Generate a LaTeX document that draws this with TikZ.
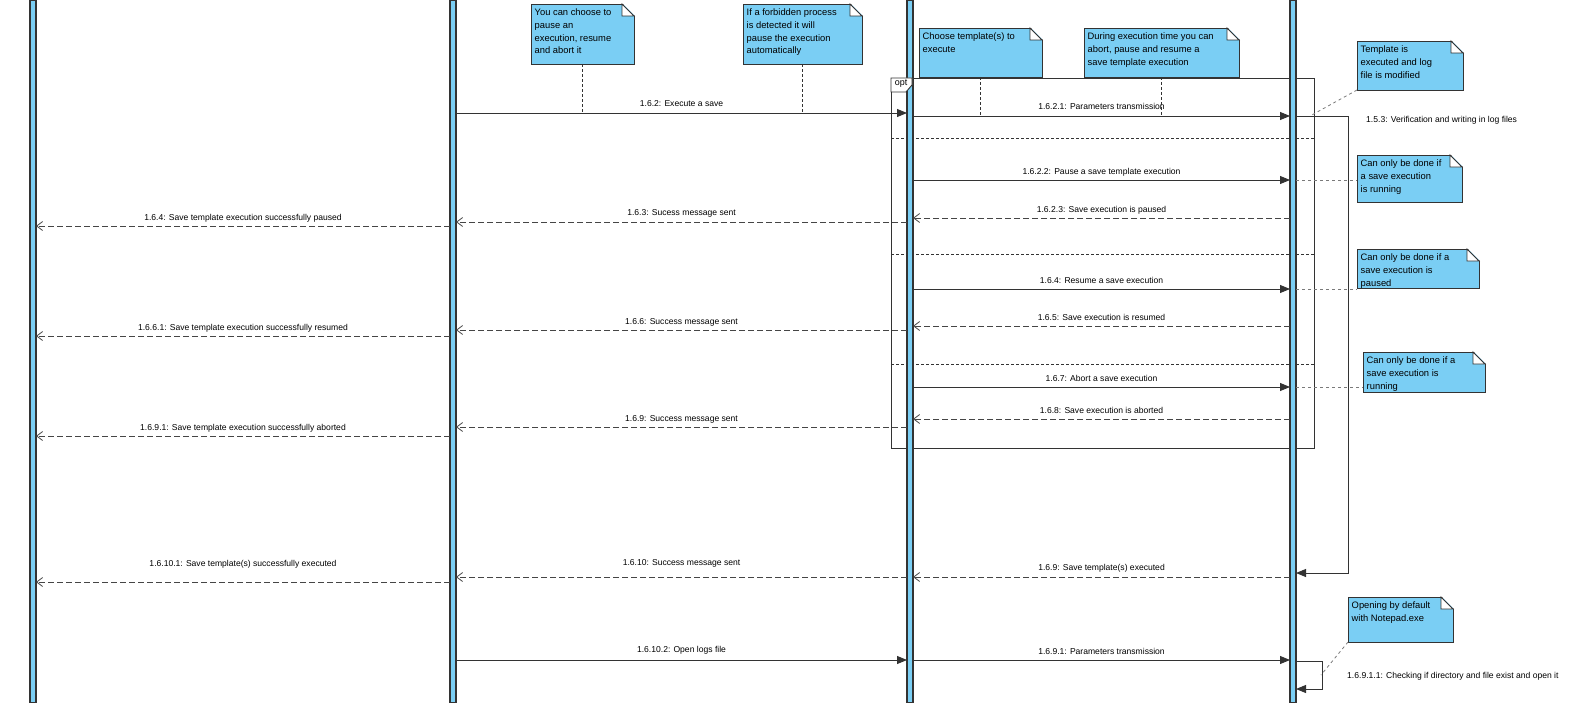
\documentclass[tikz,border=0pt]{standalone}
\usepackage{fontspec}
\setmainfont{Liberation Sans}
\usetikzlibrary{arrows.meta}

\definecolor{lifeblue}{HTML}{7ACEF4}
\definecolor{edge}{HTML}{333333}
\definecolor{ret}{HTML}{454545}
\definecolor{hint}{HTML}{7A7A7A}
\newcommand\lblfont{\fontsize{8.6}{10}\selectfont}
\newcommand\notefont{\fontsize{9.4}{12.7}\selectfont}
\newcommand\fold[1]{%
  \fill[white] ([xshift=-12bp,yshift=1bp]#1.north east) -- ([xshift=1bp,yshift=1bp]#1.north east) -- ([xshift=1bp,yshift=-12bp]#1.north east) -- cycle;
  \draw[edge, line width=0.9bp, fill=white] ([xshift=-12bp]#1.north east) -- ([yshift=-12bp]#1.north east) -- ([xshift=-12bp,yshift=-12bp]#1.north east) -- cycle;}

\begin{document}
\begin{tikzpicture}[x=1bp, y=-1bp,
    bar/.style={draw=edge, fill=lifeblue, line width=1.2bp, minimum width=6bp, minimum height=703bp, inner sep=0pt, outer sep=0pt},
    sync/.style={draw=edge, line width=0.9bp, -{Triangle[length=10bp,width=8bp]}},
    reply/.style={draw=ret, line width=0.8bp, dash pattern=on 6bp off 3bp, -{Straight Barb[length=6bp,width=9bp]}},
    lbl/.style={font=\lblfont, anchor=base, yshift=6bp, inner sep=0pt},
    selflbl/.style={font=\lblfont, anchor=west, inner sep=0pt},
    note/.style={draw=edge, fill=lifeblue, line width=0.9bp, anchor=north west, inner sep=0pt, outer sep=0pt},
    notetext/.style={font=\notefont, align=left, anchor=north west, inner xsep=3.5bp, inner ysep=5bp},
    anchorline/.style={draw=edge, line width=0.7bp, dash pattern=on 3bp off 2bp},
    hintline/.style={draw=hint, line width=0.8bp, dash pattern=on 3bp off 3bp},
    sepline/.style={draw=edge, line width=0.8bp, dash pattern=on 3bp off 2bp},
    framebox/.style={draw=edge, line width=0.9bp, anchor=north west, inner sep=0pt}]
  \useasboundingbox (0,0) rectangle (1596,703);

  %Frame
  \node[framebox, minimum width=423bp, minimum height=370bp] (optframe) at (891,78) {};
  \draw[sepline] (optframe.west |- 0,138) -- (optframe.east |- 0,138);
  \draw[sepline] (optframe.west |- 0,254) -- (optframe.east |- 0,254);
  \draw[sepline] (optframe.west |- 0,364) -- (optframe.east |- 0,364);

  %Lifelines
  \node[bar] (user) at (33,351.5) {};
  \node[bar] (ui) at (453,351.5) {};
  \node[bar] (ctrl) at (910,351.5) {};
  \node[bar] (sys) at (1293,351.5) {};

  %Frame tab
  \filldraw[draw=edge, fill=white, line width=0.9bp] (optframe.north west) -- (912,78) -- (912,85) -- (906,92) -- (891,92) -- cycle;
  \node[font=\fontsize{9}{10}\selectfont, inner sep=0pt] (optlbl) at (901,84) {opt};

  %Messages
  \draw[sync] (ui.east |- 0,113) -- node[lbl]{1.6.2: Execute a save} (ctrl.west |- 0,113);
  \draw[sync] (ctrl.east |- 0,116) -- node[lbl]{1.6.2.1: Parameters transmission} (sys.west |- 0,116);
  \draw[sync] (sys.east |- 0,116) -- (1348,116) -- (1348,573) -- (sys.east |- 0,573);
  \node[selflbl] (verif) at (1366,120) {1.5.3: Verification and writing in log files};

  \draw[sync] (ctrl.east |- 0,180) -- node[lbl]{1.6.2.2: Pause a save template execution} (sys.west |- 0,180);
  \draw[reply] (sys.west |- 0,218) -- node[lbl]{1.6.2.3: Save execution is paused} (ctrl.east |- 0,218);
  \draw[reply] (ctrl.west |- 0,222) -- node[lbl, yshift=1bp]{1.6.3: Sucess message sent} (ui.east |- 0,222);
  \draw[reply] (ui.west |- 0,226) -- node[lbl]{1.6.4: Save template execution successfully paused} (user.east |- 0,226);

  \draw[sync] (ctrl.east |- 0,289) -- node[lbl]{1.6.4: Resume a save execution} (sys.west |- 0,289);
  \draw[reply] (sys.west |- 0,326) -- node[lbl]{1.6.5: Save execution is resumed} (ctrl.east |- 0,326);
  \draw[reply] (ctrl.west |- 0,330) -- node[lbl]{1.6.6: Success message sent} (ui.east |- 0,330);
  \draw[reply] (ui.west |- 0,336) -- node[lbl]{1.6.6.1: Save template execution successfully resumed} (user.east |- 0,336);

  \draw[sync] (ctrl.east |- 0,387) -- node[lbl]{1.6.7: Abort a save execution} (sys.west |- 0,387);
  \draw[reply] (sys.west |- 0,419) -- node[lbl]{1.6.8: Save execution is aborted} (ctrl.east |- 0,419);
  \draw[reply] (ctrl.west |- 0,427) -- node[lbl]{1.6.9: Success message sent} (ui.east |- 0,427);
  \draw[reply] (ui.west |- 0,436) -- node[lbl]{1.6.9.1: Save template execution successfully aborted} (user.east |- 0,436);

  \draw[reply] (sys.west |- 0,577) -- node[lbl, yshift=1bp]{1.6.9: Save template(s) executed} (ctrl.east |- 0,577);
  \draw[reply] (ctrl.west |- 0,577) -- node[lbl, yshift=6bp]{1.6.10: Success message sent} (ui.east |- 0,577);
  \draw[reply] (ui.west |- 0,582) -- node[lbl, yshift=10bp]{1.6.10.1: Save template(s) successfully executed} (user.east |- 0,582);

  \draw[sync] (ui.east |- 0,660) -- node[lbl, yshift=2bp]{1.6.10.2: Open logs file} (ctrl.west |- 0,660);
  \draw[sync] (ctrl.east |- 0,660) -- node[lbl]{1.6.9.1: Parameters transmission} (sys.west |- 0,660);
  \draw[sync] (sys.east |- 0,661) -- (1322,661) -- (1322,689) -- (sys.east |- 0,689);
  \node[selflbl] (check) at (1347,676) {1.6.9.1.1: Checking if directory and file exist and open it};

  %Notes
  \node[note, minimum width=103bp, minimum height=60bp] (nA) at (531,4) {};
  \fold{nA}
  \node[notetext] (nAt) at (nA.north west) {You can choose to\\pause an\\execution, resume\\and abort it};
  \draw[anchorline] (nA.south) -- (nA.south |- 0,113);

  \node[note, minimum width=119bp, minimum height=60bp] (nB) at (743,4) {};
  \fold{nB}
  \node[notetext] (nBt) at (nB.north west) {If a forbidden process\\is detected it will\\pause the execution\\automatically};
  \draw[anchorline] (nB.south) -- (nB.south |- 0,113);

  \node[note, minimum width=123bp, minimum height=49bp] (nC) at (919,28) {};
  \fold{nC}
  \node[notetext] (nCt) at (nC.north west) {Choose template(s) to\\execute};
  \draw[anchorline] (nC.south) -- (nC.south |- 0,116);

  \node[note, minimum width=155bp, minimum height=49bp] (nD) at (1084,28) {};
  \fold{nD}
  \node[notetext] (nDt) at (nD.north west) {During execution time you can\\abort, pause and resume a\\save template execution};
  \draw[anchorline] (nD.south) -- (nD.south |- 0,116);

  \node[note, minimum width=106bp, minimum height=49bp] (nE) at (1357,41) {};
  \fold{nE}
  \node[notetext] (nEt) at (nE.north west) {Template is\\executed and log\\file is modified};
  \coordinate (verifpt) at (1310,116);
  \draw[hintline] (nE.south west) -- (verifpt);

  \node[note, minimum width=105bp, minimum height=47bp] (nF) at (1357,155) {};
  \fold{nF}
  \node[notetext] (nFt) at (nF.north west) {Can only be done if\\a save execution\\is running};
  \draw[hintline] (sys.east |- 0,180) -- (nF.west |- 0,180);

  \node[note, minimum width=122bp, minimum height=39bp] (nG) at (1357,249) {};
  \fold{nG}
  \node[notetext] (nGt) at (nG.north west) {Can only be done if a\\save execution is\\paused};
  \draw[hintline] (sys.east |- 0,289) -- (nG.west |- 0,289);

  \node[note, minimum width=122bp, minimum height=40bp] (nH) at (1363,352) {};
  \fold{nH}
  \node[notetext] (nHt) at (nH.north west) {Can only be done if a\\save execution is\\running};
  \draw[hintline] (sys.east |- 0,387) -- (nH.west |- 0,387);

  \node[note, minimum width=105bp, minimum height=45bp] (nI) at (1348,597) {};
  \fold{nI}
  \node[notetext] (nIt) at (nI.north west) {Opening by default\\with Notepad.exe};
  \coordinate (checkpt) at (1321,675);
  \draw[hintline] (nI.south west) -- (checkpt);
\end{tikzpicture}
\end{document}
